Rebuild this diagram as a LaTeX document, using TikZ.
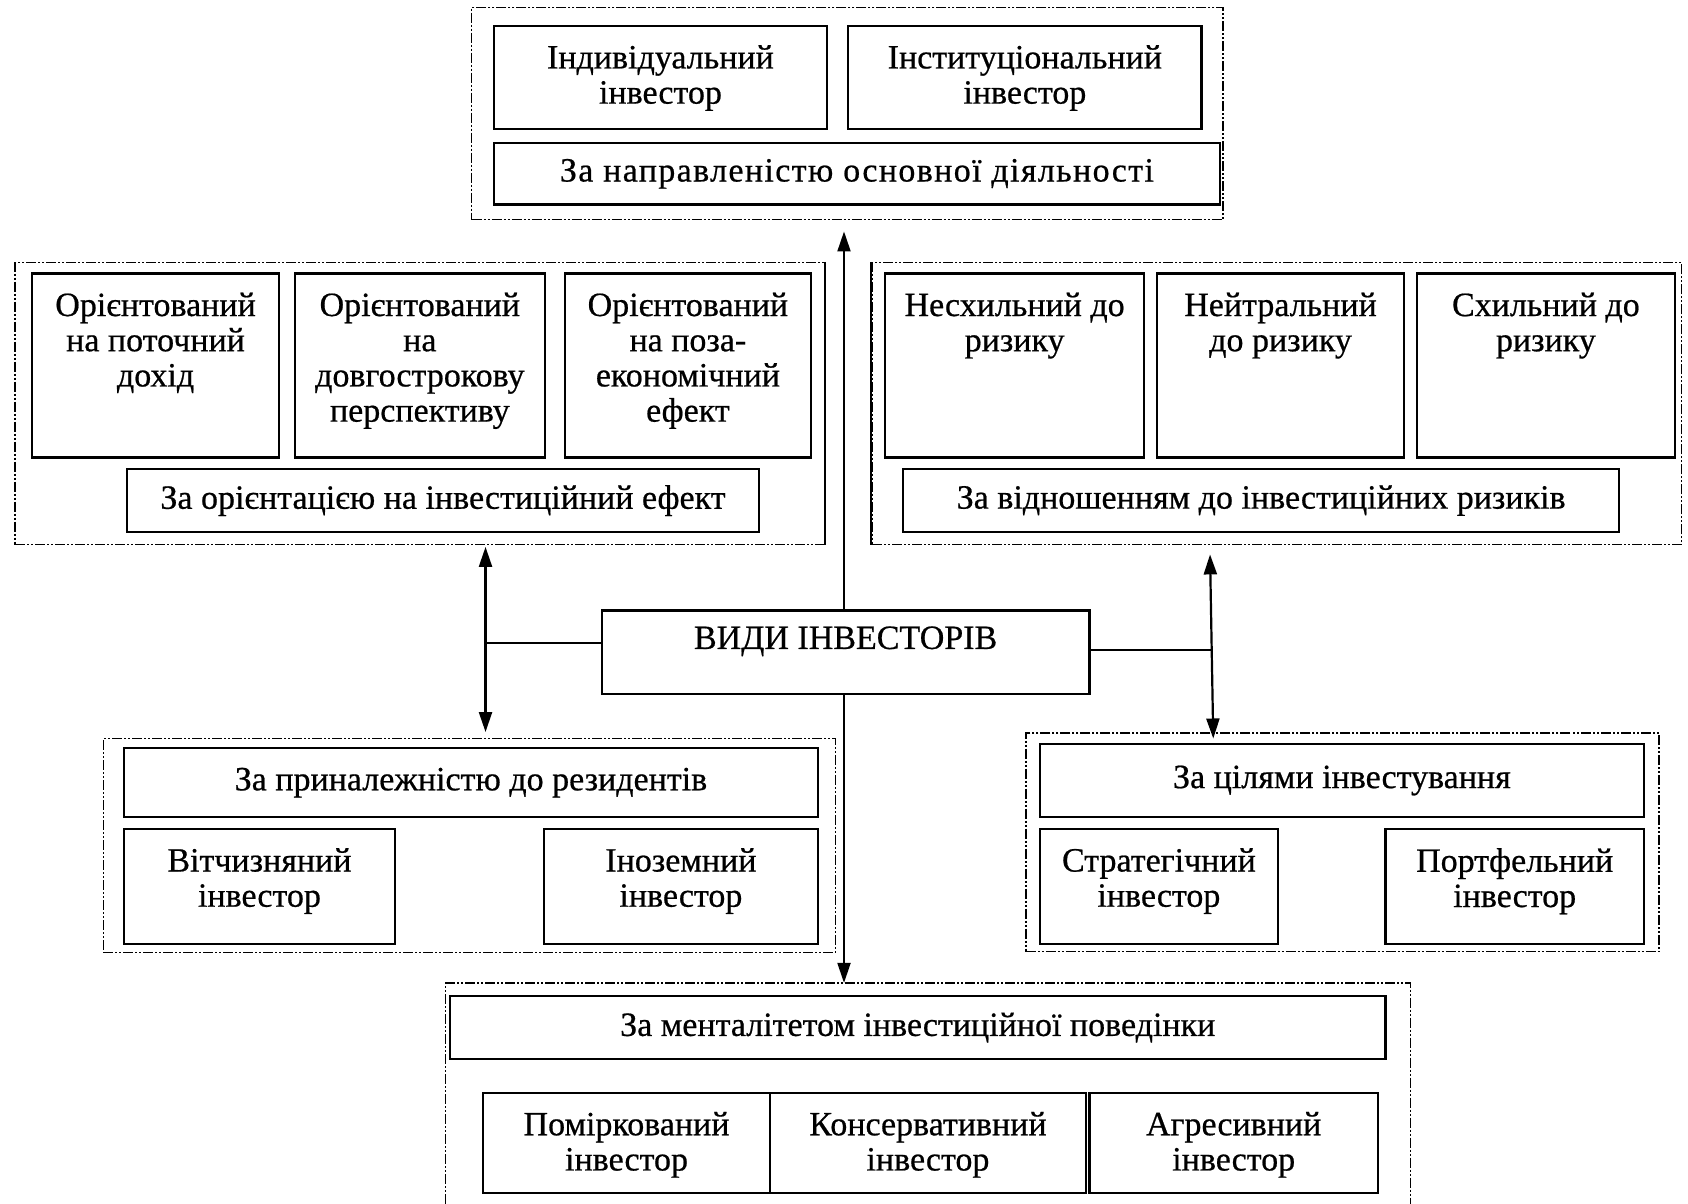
\documentclass[tikz,border=0pt]{standalone}
\usepackage{fontspec}
\setmainfont{Liberation Serif}[FakeBold=0.6]
\usetikzlibrary{arrows.meta,fit,calc}
\newcommand\mytb[6]{\node[box,fit={(#2,#3)(#4,#5)}] (#1) {};
  \node[txt,anchor=north] (#1t) at ([yshift=-10pt]#1.north) {#6};}
\newcommand\myhb[6]{\node[box,fit={(#2,#3)(#4,#5)}] (#1) {};
  \node[txt] (#1t) at (#1.center) {#6};}
\begin{document}
\begin{tikzpicture}[x=0.53827pt,y=-0.53827pt,
  box/.style={draw,line width=1.1pt,inner sep=0pt},
  grp/.style={draw,line width=0.7pt,inner sep=0pt,dash pattern=on 5pt off 1pt on 1pt off 1pt on 1pt off 1pt},
  txt/.style={font=\fontsize{17}{17.6}\selectfont,align=center,inner sep=0pt},
  ln/.style={line width=1pt},
  arr/.style={line width=1pt,-{Triangle[length=10pt,width=6.5pt]}},
  darr/.style={line width=1.1pt,{Triangle[length=10pt,width=6.5pt]}-{Triangle[length=10pt,width=6.5pt]}}]
\useasboundingbox (0,0) rectangle (1568,1118);

% top group
\node[grp,fit={(438,7)(1136,204)}] (g1) {};
\mytb{b11}{459}{24}{768}{120}{Індивідуальний\\інвестор}
\mytb{b12}{788}{24}{1116}{120}{Інституціональний\\інвестор}
\myhb{b13}{459}{133}{1133}{190}{\addfontfeatures{LetterSpace=4}За направленістю основної діяльності}

% left middle group
\node[grp,fit={(14,244)(766,506)}] (g2) {};
\draw[ln] (g2.north east) -- (g2.south east);
\mytb{b21}{30}{254}{259}{425}{Орієнтований\\на поточний\\дохід}
\mytb{b22}{274}{254}{506}{425}{Орієнтований\\на\\довгострокову\\перспективу}
\mytb{b23}{525}{254}{753}{425}{Орієнтований\\на поза-\\економічний\\ефект}
\myhb{b24}{118}{436}{705}{494}{За орієнтацією на інвестиційний ефект}

% right middle group
\node[grp,fit={(810,244)(1562,506)}] (g3) {};
\draw[ln] (g3.north west) -- (g3.south west);
\mytb{b31}{822}{254}{1063}{425}{Несхильний до\\ризику}
\mytb{b32}{1075}{254}{1304}{425}{Нейтральний\\до ризику}
\mytb{b33}{1316}{254}{1556}{425}{Схильний до\\ризику}
\myhb{b34}{839}{436}{1504}{494}{За відношенням до інвестиційних ризиків}

% centre
\node[box,fit={(559,567)(1012,645)}] (vid) {};
\node[txt] (vidt) at ([yshift=-16pt]vid.north) {ВИДИ ІНВЕСТОРІВ};

% lower left group
\node[grp,fit={(96,686)(776,885)}] (g4) {};
\myhb{b41}{115}{695}{760}{759}{За приналежністю до резидентів}
\mytb{b42}{115}{770}{367}{877}{Вітчизняний\\інвестор}
\mytb{b43}{505}{770}{760}{877}{Іноземний\\інвестор}

% lower right group
\node[grp,fit={(953,681)(1541,884)}] (g5) {};
\myhb{b51}{966}{691}{1527}{759}{За цілями інвестування}
\mytb{b52}{966}{770}{1187}{877}{Стратегічний\\інвестор}
\mytb{b53}{1287}{770}{1527}{877}{Портфельний\\інвестор}

% bottom group
\coordinate (g6nw) at (414,913);
\coordinate (g6ne) at (1310,913);
\draw[grp] (414,1118) -- (g6nw) -- (g6ne) -- (1310,1118);
\myhb{b61}{418}{925}{1287}{984}{За менталітетом інвестиційної поведінки}
\mytb{b62}{449}{1015}{715}{1108}{Поміркований\\інвестор}
\mytb{b63}{715}{1015}{1009}{1108}{Консервативний\\інвестор}
\mytb{b64}{1012}{1015}{1280}{1108}{Агресивний\\інвестор}

% connectors
\coordinate (upT) at (784,215);
\draw[arr] (vid.north -| upT) -- (upT);
\draw[arr] (vid.south -| upT) -- (upT |- g6nw);

\coordinate (la1) at (451,508);
\coordinate (la2) at (451,680);
\coordinate (lj) at (451,597);
\draw[darr] (la1) -- (la2);
\draw[ln] (lj) -- (lj -| vid.west);

\coordinate (ra1) at (1124,515);
\coordinate (ra2) at (1127,686);
\coordinate (rj) at (1125,604);
\draw[darr] (ra1) -- (ra2);
\draw[ln] (rj -| vid.east) -- (rj);
\end{tikzpicture}
\end{document}
